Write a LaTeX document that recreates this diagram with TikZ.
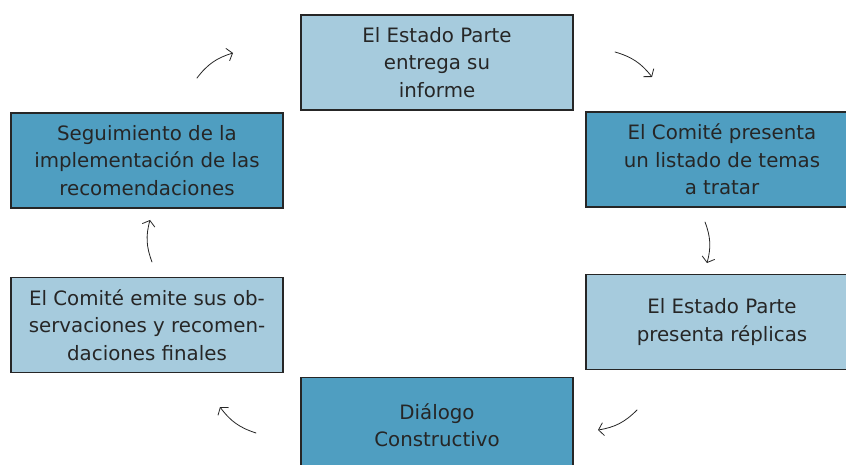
\documentclass[tikz,border=0pt]{standalone}
\usepackage{fontspec}
\setmainfont{DejaVu Sans}
\usetikzlibrary{calc, positioning}
\usetikzlibrary{arrows.meta}
\definecolor{lightfill}{HTML}{A6CBDD}
\definecolor{darkfill}{HTML}{4F9EC1}
\definecolor{inkgray}{HTML}{262626}
\def\bw{272pt}
\def\bh{95pt}
\tikzset{
    border/.style = {
        draw=inkgray, rectangle, minimum width=\bw, minimum height=\bh, line width=1.1pt, align=center,
        text=inkgray, inner sep=0pt, font=\fontsize{19.8}{27.5}\selectfont
    },
    lightbox/.style = {border, fill=lightfill},
    darkbox/.style = {border, fill=darkfill},
    cycle/.style = {
        inkgray, line width=0.8pt, line cap=round, -{Straight Barb[length=5pt,width=13pt]}
    },
}

\begin{document}
\begin{tikzpicture}[x=1pt, y=-1pt]
        \path[use as bounding box, fill=white] (0,0) rectangle (846,465);
        % Place the blocks
        \node[lightbox] (informe) at (437,62.5) {El Estado Parte\\entrega su\\informe};
        \node[darkbox] (temas) at (722,159.5) {El Comité presenta\\un listado de temas\\a tratar};
        \node[lightbox] (replicas) at (722,322) {El Estado Parte\\presenta réplicas};
        \node[darkbox] (dialogo) at (437,425) {Diálogo\\Constructivo};
        \node[lightbox] (observaciones) at (147,325) {El Comité emite sus ob-\\servaciones y recomen-\\daciones finales};
        \node[darkbox] (seguimiento) at (147,160.5) {Seguimiento de la\\implementación de las\\recomendaciones};

        % Arrow ends between the blocks
        \coordinate (s1) at (197,78);  \coordinate (e1) at (233,53);
        \coordinate (s2) at (615,52);  \coordinate (e2) at (652,77);
        \coordinate (s3) at (705,222); \coordinate (e3) at (707,263);
        \coordinate (s4) at (637,410); \coordinate (e4) at (598,430);
        \coordinate (s5) at (256,433); \coordinate (e5) at (220,407);
        \coordinate (s6) at (152,262); \coordinate (e6) at (150,220);

        % Draw the cycle
        \foreach \i in {1,...,6}{
            \draw[cycle] (s\i) to[bend left=18] (e\i);
        }
\end{tikzpicture}
\end{document}
